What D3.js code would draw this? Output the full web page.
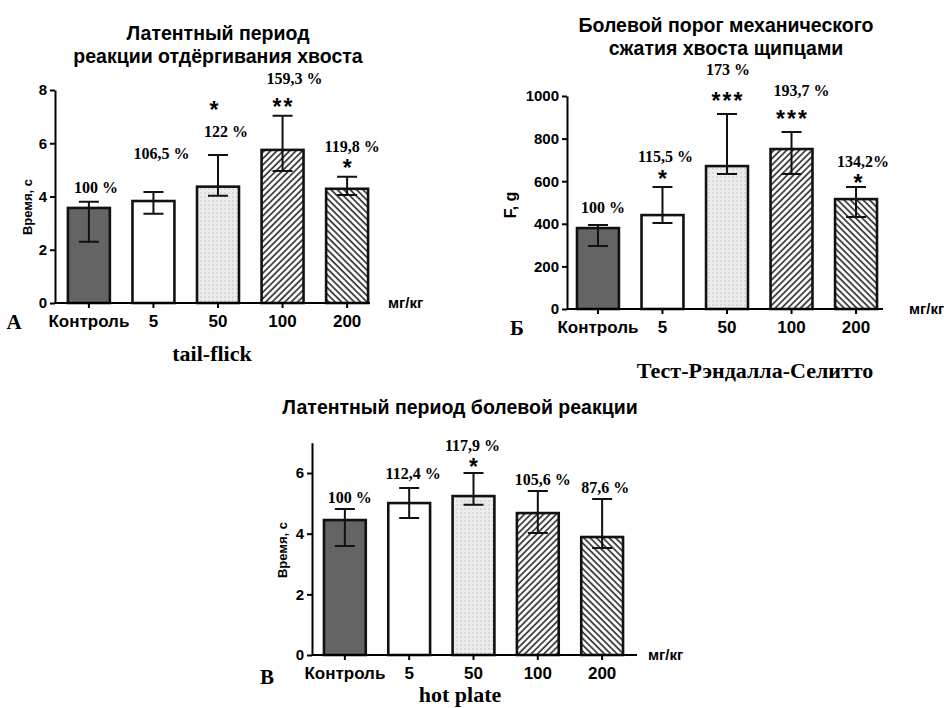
<!DOCTYPE html>
<html>
<head>
<meta charset="utf-8">
<script src="https://cdn.jsdelivr.net/npm/d3@7"></script>
<style>
  body { margin: 0; background: #fff; }
</style>
</head>
<body>
<div id="chart"></div>
<script>
// categories (dose, mg/kg)
const categories = ["Контроль", "5", "50", "100", "200"];

// A: tail-flick, время, с
const tailMean = [3.57, 3.83, 4.37, 5.75, 4.29];
const tailHigh = [3.80, 4.17, 5.56, 7.03, 4.74];
const tailLow  = [2.30, 3.35, 4.03, 4.96, 4.06];
const tailPct  = ["100 %", "106,5 %", "122 %", "159,3 %", "119,8 %"];
const tailStars = ["", "", "*", "**", "*"];
const tailTicks = [0, 2, 4, 6, 8];

// Б: Randall-Selitto, F, g
const randMean = [380, 441, 671, 751, 516];
const randHigh = [394, 573, 915, 831, 573];
const randLow  = [296, 404, 634, 634, 432];
const randPct  = ["100 %", "115,5 %", "173 %", "193,7 %", "134,2%"];
const randStars = ["", "*", "***", "***", "*"];
const randTicks = [0, 200, 400, 600, 800, 1000];

// В: hot plate, время, с
const hotMean = [4.45, 5.01, 5.24, 4.68, 3.89];
const hotHigh = [4.81, 5.51, 6.00, 5.41, 5.14];
const hotLow  = [3.59, 4.52, 4.95, 4.02, 3.53];
const hotPct  = ["100 %", "112,4 %", "117,9 %", "105,6 %", "87,6 %"];
const hotStars = ["", "", "*", "", ""];
const hotTicks = [0, 2, 4, 6];

const fills = ["#646464", "#fff", "url(#dots)", "url(#hatchA)", "url(#hatchB)"];

const sans = "'Liberation Sans', Arial, sans-serif";
const serif = "'Liberation Serif', 'Times New Roman', serif";

const svg = d3.select("#chart")
    .append("svg")
    .attr("width", 944)
    .attr("height", 708)
    .style("font-family", sans);

// patterns
const defs = svg.append("defs");
const dots = defs.append("pattern").attr("id", "dots")
    .attr("patternUnits", "userSpaceOnUse").attr("width", 4).attr("height", 4);
dots.append("rect").attr("width", 4).attr("height", 4).attr("fill", "#ececec");
dots.append("circle").attr("cx", 1).attr("cy", 1).attr("r", 0.7).attr("fill", "#b8b8b8");

function hatch(id, angle) {
    const p = defs.append("pattern").attr("id", id)
        .attr("patternUnits", "userSpaceOnUse").attr("width", 4.5).attr("height", 4.5)
        .attr("patternTransform", `rotate(${angle})`);
    p.append("rect").attr("width", 4.5).attr("height", 4.5).attr("fill", "#fff");
    p.append("line").attr("x1", 1).attr("y1", 0).attr("x2", 1).attr("y2", 4.5)
        .attr("stroke", "#333").attr("stroke-width", 1.7);
}
hatch("hatchA", 45);   // ////
hatch("hatchB", -45);  // \\\\

function drawPanel(p) {
    const g = svg.append("g");

    const x = d3.scaleBand()
        .domain(categories)
        .range([p.x0, p.x1])
        .paddingInner(0.35)
        .paddingOuter(p.po);

    const y = d3.scaleLinear()
        .domain([0, p.max])
        .range([p.y0, p.y1]);

    const data = categories.map((c, i) => ({
        c: c, m: p.mean[i], hi: p.high[i], lo: p.low[i],
        pct: p.pct[i], stars: p.stars[i], i: i
    }));

    // bars
    g.selectAll(".bar")
        .data(data)
        .join("rect")
        .attr("x", d => x(d.c))
        .attr("y", d => y(d.m))
        .attr("width", x.bandwidth())
        .attr("height", d => y(0) - y(d.m))
        .attr("fill", d => fills[d.i])
        .attr("stroke", "#111")
        .attr("stroke-width", 2.6);

    // error bars
    const cx = d => x(d.c) + x.bandwidth() / 2;
    g.selectAll(".err")
        .data(data)
        .join("path")
        .attr("d", d => `M${cx(d)},${y(d.lo)}V${y(d.hi)}` +
            `M${cx(d) - 10},${y(d.hi)}H${cx(d) + 10}` +
            `M${cx(d) - 10},${y(d.lo)}H${cx(d) + 10}`)
        .attr("stroke", "#111")
        .attr("stroke-width", 2)
        .attr("fill", "none");

    // y axis
    const ya = g.append("g")
        .attr("transform", `translate(${p.x0},0)`)
        .call(d3.axisLeft(y).tickValues(p.ticks).tickFormat(d3.format("d"))
            .tickSize(5).tickPadding(3).tickSizeOuter(0));
    ya.select(".domain").attr("stroke-width", 2);
    ya.selectAll(".tick line").attr("stroke-width", 2);
    ya.selectAll("text").style("font-size", "15px").style("font-weight", "bold")
        .style("font-family", sans);

    // x axis
    const xa = g.append("g")
        .attr("transform", `translate(0,${p.y0})`)
        .call(d3.axisBottom(x).tickSize(5).tickPadding(7).tickSizeOuter(0));
    xa.select(".domain").attr("d", `M${p.x0},0H${p.xEnd}`).attr("stroke-width", 2);
    xa.selectAll(".tick line").attr("stroke-width", 2);
    xa.selectAll("text").style("font-size", "17px").style("font-weight", "bold")
        .style("font-family", sans);

    // unit
    g.append("text")
        .attr("x", p.unitX).attr("y", p.y0).attr("dy", "0.35em")
        .style("font-size", "15px").style("font-weight", "bold")
        .text("мг/кг");

    // percent labels
    g.selectAll(".pct")
        .data(data)
        .join("text")
        .attr("x", d => cx(d) + p.pctDx[d.i])
        .attr("y", d => y(d.hi) + p.pctDy[d.i])
        .attr("dy", "0.35em")
        .attr("text-anchor", "middle")
        .style("font-family", serif)
        .style("font-weight", "bold")
        .style("font-size", "16px")
        .text(d => d.pct);

    // significance stars
    g.selectAll(".star")
        .data(data.filter(d => d.stars))
        .join("text")
        .attr("x", d => cx(d) + p.starDx[d.i] + 1)
        .attr("y", d => y(d.hi) + p.starDy[d.i] + 13)
        .attr("text-anchor", "middle")
        .style("font-size", "23px")
        .style("font-weight", "bold")
        .style("letter-spacing", "2px")
        .text(d => d.stars);

    // title
    p.title.forEach((t, k) => {
        g.append("text")
            .attr("x", p.titleX).attr("y", p.titleY + k * 23).attr("dy", "0.35em")
            .attr("text-anchor", "middle")
            .style("font-size", "19.5px").style("font-weight", "bold")
            .text(t);
    });

    // y label
    g.append("text")
        .attr("transform", `translate(${p.ylabX},${p.ylabY}) rotate(-90)`)
        .attr("dy", "0.35em")
        .attr("text-anchor", "middle")
        .style("font-size", p.ylabSize + "px").style("font-weight", "bold")
        .text(p.ylab);

    // panel letter
    g.append("text")
        .attr("x", p.letterX).attr("y", p.letterY).attr("dy", "0.35em")
        .attr("text-anchor", "middle")
        .style("font-family", serif)
        .style("font-size", "21px").style("font-weight", "bold")
        .text(p.letter);

    // caption
    g.append("text")
        .attr("x", p.capX).attr("y", p.capY).attr("dy", "0.35em")
        .attr("text-anchor", "middle")
        .style("font-family", serif)
        .style("font-size", "22px").style("font-weight", "bold")
        .text(p.caption);
}

drawPanel({
    mean: tailMean, high: tailHigh, low: tailLow, pct: tailPct, stars: tailStars,
    ticks: tailTicks, max: 8,
    x0: 55, x1: 381, po: 0.2, xEnd: 370, y0: 303, y1: 90,
    unitX: 388,
    pctDx: [7, 8, 8, 12, 5], pctDy: [-14, -39, -24, -37, -30],
    starDx: [0, 0, -4, 0, 0], starDy: [0, 0, -50, -14, -14],
    title: ["Латентный период", "реакции отдёргивания хвоста"], titleX: 218, titleY: 33,
    ylab: "Время, с", ylabX: 27, ylabY: 207, ylabSize: 13,
    letter: "А", letterX: 14, letterY: 322,
    caption: "tail-flick", capX: 212, capY: 353
});

drawPanel({
    mean: randMean, high: randHigh, low: randLow, pct: randPct, stars: randStars,
    ticks: randTicks, max: 1000,
    x0: 567, x1: 887, po: 0.155, xEnd: 883, y0: 309, y1: 96,
    unitX: 909,
    pctDx: [5, 3, 1, 10, 7], pctDy: [-18, -31, -45, -42, -26],
    starDx: [0, 0, 0, 0, 2], starDy: [0, -13, -18, -18, -9],
    title: ["Болевой порог механического", "сжатия хвоста щипцами"], titleX: 726, titleY: 25,
    ylab: "F, g", ylabX: 510, ylabY: 205, ylabSize: 16,
    letter: "Б", letterX: 517, letterY: 328,
    caption: "Тест-Рэндалла-Селитто", capX: 755, capY: 370
});

drawPanel({
    mean: hotMean, high: hotHigh, low: hotLow, pct: hotPct, stars: hotStars,
    ticks: hotTicks, max: 7,
    x0: 312, x1: 635, po: 0.186, xEnd: 637, y0: 655, y1: 442.7,
    unitX: 648,
    pctDx: [5, 4, -1, 5, 3], pctDy: [-12, -14, -28, -12, -12],
    starDx: [0, 0, 0, 0, 0], starDy: [0, 0, -11, 0, 0],
    title: ["Латентный период болевой реакции"], titleX: 460, titleY: 407,
    ylab: "Время, с", ylabX: 282, ylabY: 550, ylabSize: 13,
    letter: "В", letterX: 267, letterY: 677,
    caption: "hot plate", capX: 460, capY: 694
});
</script>
</body>
</html>
